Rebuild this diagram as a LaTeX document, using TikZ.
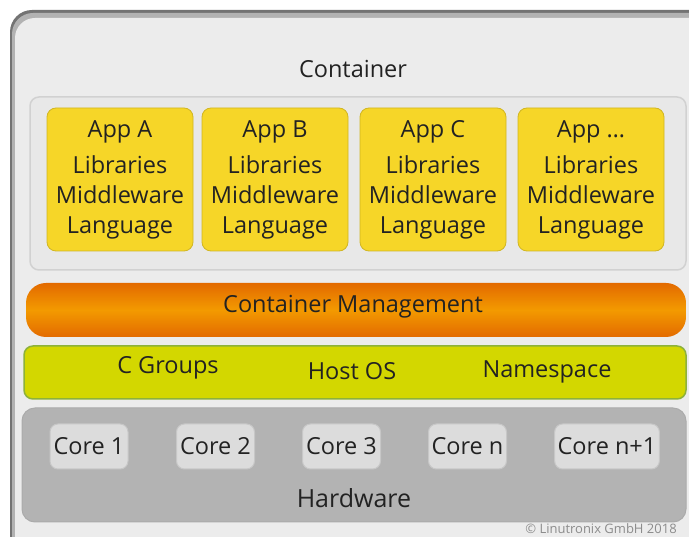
\documentclass[tikz,border=0pt]{standalone}
\usepackage{fontspec}
\setmainfont{Open Sans}

\definecolor{framegray}{HTML}{ECECEC}
\definecolor{boxgray}{HTML}{E8E8E8}
\definecolor{appyellow}{HTML}{F6D628}
\definecolor{mgmtorange}{HTML}{F39A00}
\definecolor{mgmtdark}{HTML}{E36A00}
\definecolor{hostgreen}{HTML}{D3D700}
\definecolor{hostedge}{HTML}{8DB13B}
\definecolor{hwgray}{HTML}{B3B3B3}
\definecolor{coregray}{HTML}{DCDCDC}
\definecolor{textdark}{HTML}{222222}

\begin{document}
\begin{tikzpicture}[x=1pt, y=-1pt, font=\fontsize{23.5}{30}\selectfont, text=textdark]
        \useasboundingbox (0,0) rectangle (689,537);
        \clip (0,0) rectangle (689,537);

        % outer frame
        \fill[black!55, rounded corners=22] (10,10) rectangle (720,570);
        \fill[black!30, rounded corners=21] (12,13) rectangle (718,568);
        \fill[framegray, rounded corners=20] (15,18) rectangle (716,566);
        \node (container) at (353,69) {Container};

        % applications
        \node[fill=boxgray, draw=black!18, line width=1.5, rounded corners=9,
            minimum width=656, minimum height=173] (apps) at (358,183.5) {};
        \foreach \i/\name/\x in {1/A/120, 2/B/275, 3/C/433, 4/\ldots/591} {
            \node[fill=appyellow, draw=appyellow!85!black, line width=0.8, rounded corners=9,
                minimum width=146, minimum height=143, align=center, inner sep=0]
                (app_\i) at (\x,179.5) {App \name\\[6pt]Libraries\\Middleware\\Language};
        }

        % container management
        \node[shading=axis, top color=mgmtdark, bottom color=mgmtdark, middle color=mgmtorange,
            rounded corners=20, minimum width=660, minimum height=54] (mgmt) at (356,310) {};
        \node at (353,307) {Container Management};

        % host os
        \node[fill=hostgreen, draw=hostedge, line width=1.5, rounded corners=9,
            minimum width=662, minimum height=53] (host) at (355,372.5) {};
        \node (cgroups) at (168,367.5) {C Groups};
        \node (hostos) at (352,371.5) {Host OS};
        \node (namespace) at (547,371.5) {Namespace};

        % hardware
        \node[fill=hwgray, draw=black!33, line width=1, rounded corners=13,
            minimum width=664, minimum height=114] (hw) at (354,465) {};
        \foreach \i/\name/\x in {1/1/89, 2/2/215.5, 3/3/341.5, 4/n/467.5, 5/n+1/607} {
            \node[fill=coregray, draw=black!22, line width=1, rounded corners=8,
                minimum width=78, minimum height=45, inner xsep=3]
                (core_\i) at (\x,446.5) {\raisebox{-2pt}{Core \name}};
        }
        \node[font=\fontsize{25}{30}\selectfont] (hwlabel) at (354,498) {Hardware};

        % copyright
        \node[font=\fontsize{13}{15}\selectfont, text=black!45] (copy) at (601,529) {© Linutronix GmbH 2018};
    \end{tikzpicture}
\end{document}
